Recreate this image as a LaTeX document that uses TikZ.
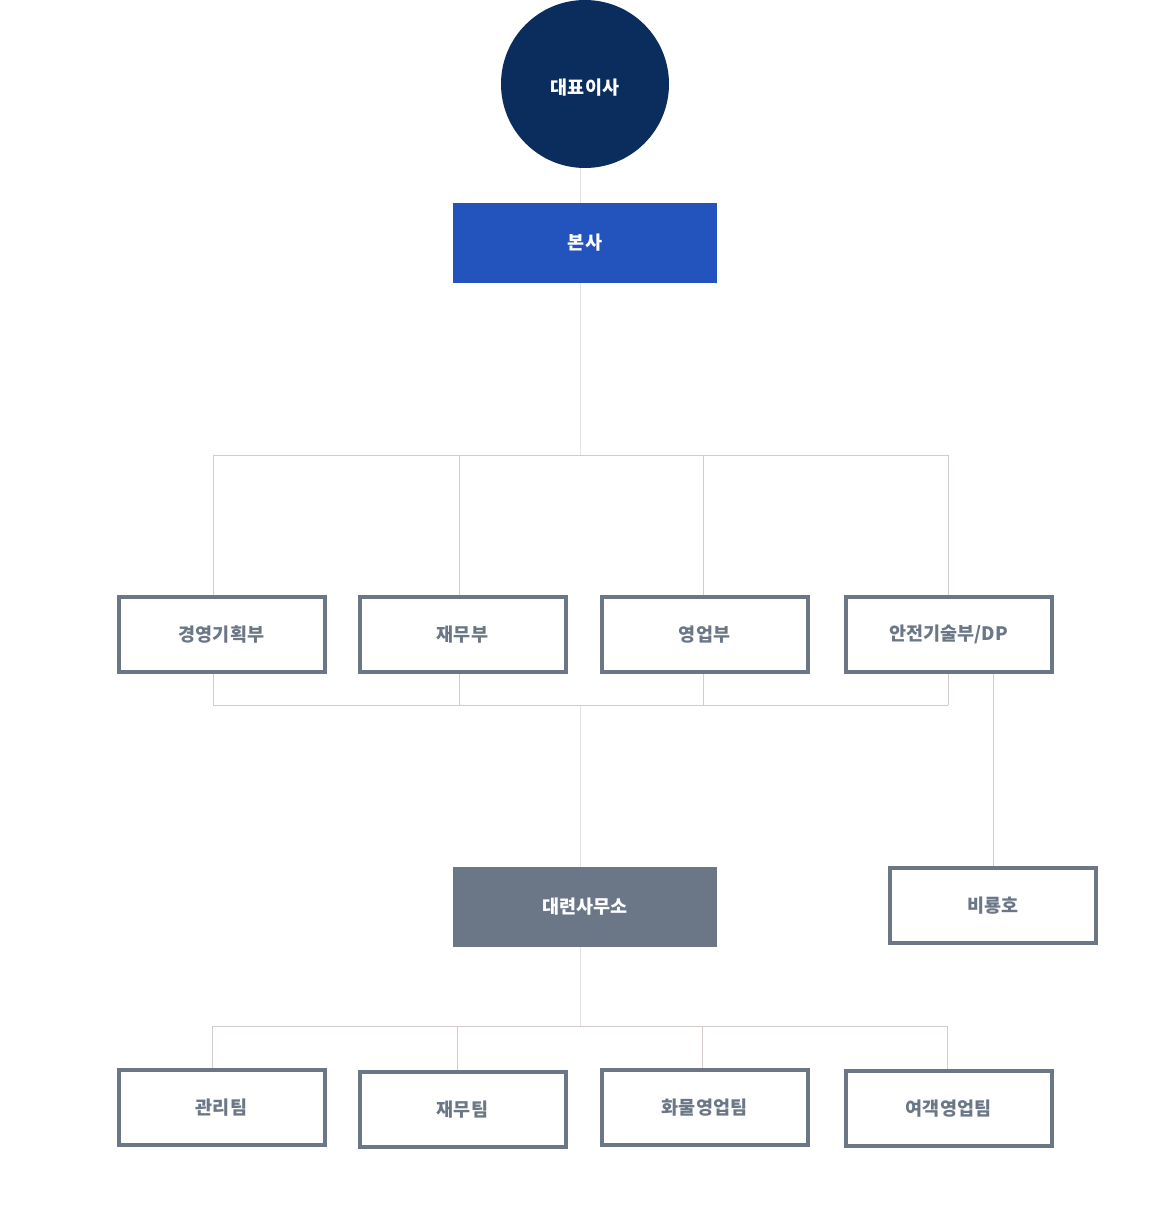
\documentclass[tikz,border=0pt]{standalone}
\usepackage{fontspec}
\setmainfont{Noto Sans CJK KR}
\usetikzlibrary{positioning}
\definecolor{navy}{HTML}{0B2D5E}
\definecolor{hqblue}{HTML}{2353BC}
\definecolor{slate}{HTML}{6B7687}
\definecolor{busline}{HTML}{D5CBCB}
\definecolor{spineline}{HTML}{E4E2E2}
\tikzset{
  every node/.append style={font=\fontsize{18.5}{22}\selectfont\bfseries},
}
\tikzset{
  ceo/.style={circle, fill=navy, text=white, minimum size=168pt, inner sep=0pt},
  solidbox/.style={rectangle, text=white, minimum width=264pt, minimum height=80pt, inner sep=0pt},
  dept/.style={rectangle, draw=slate, line width=4pt, text=slate, minimum width=206pt, minimum height=75pt, inner sep=0pt},
  bus/.style={draw=busline, line width=1pt},
  spine/.style={draw=spineline, line width=1pt}
}
\begin{document}
\begin{tikzpicture}[x=1pt, y=-1pt]
\useasboundingbox (0,0) rectangle (1170,1230);

% ---- Top: CEO and head office ----
\node[ceo] (ceo) at (585,84) {\raisebox{-4pt}[\height][\depth]{대표이사}};
\node[solidbox, fill=hqblue] (hq) at (585,243) {본사};

% ---- Departments row ----
\node[dept] (plan) at (221.5,634.5) {경영기획부};
\node[dept, right=31pt of plan]  (fin)    {재무부};
\node[dept, right=32pt of fin]   (sales)  {영업부};
\node[dept, right=34pt of sales] (safety) {안전기술부/DP};

% ---- Branch office and vessel ----
\node[solidbox, fill=slate] (dalian) at (585,907) {대련사무소};
\node[dept] (ship) at (993,905.5) {비룡호};

% ---- Teams row ----
\node[dept] (mgmt) at (221.5,1107.5) {관리팀};
\node[dept, right=31pt of mgmt, yshift=-2pt]  (acct)  {재무팀};
\node[dept, right=32pt of acct, yshift=2pt]   (cargo) {화물영업팀};
\node[dept, right=34pt of cargo, yshift=-1pt] (pax)   {여객영업팀};

% ---- Bus coordinates ----
\coordinate (spine) at (580,0);
\foreach \x/\n in {213/plan,459/fin,703/sales,948/safety}{
  \coordinate (top\n) at (\x,455);
  \coordinate (low\n) at (\x,705);
}
\foreach \x/\n in {212/mgmt,457/acct,702/cargo,947/pax}
  \coordinate (sub\n) at (\x,1026);

% ---- Spine ----
\draw[spine] (ceo.south -| spine) -- (hq.north -| spine);
\draw[spine] (hq.south -| spine) -- (topplan -| spine);
\draw[spine] (lowplan -| spine) -- (dalian.north -| spine);
\draw[spine] (dalian.south -| spine) -- (submgmt -| spine);

% ---- Department buses ----
\draw[bus] (topplan) -- (topsafety);
\draw[bus] (lowplan) -- (lowsafety);
\foreach \n in {plan,fin,sales,safety}{
  \draw[bus] (top\n) -- (top\n |- \n.north);
  \draw[bus] (\n.south -| low\n) -- (low\n);
}
\draw[bus] (ship.north) -- (ship.north |- safety.south);

% ---- Team bus ----
\draw[bus] (submgmt) -- (subpax);
\foreach \n in {mgmt,acct,cargo,pax}
  \draw[bus] (sub\n) -- (sub\n |- \n.north);

\end{tikzpicture}
\end{document}
